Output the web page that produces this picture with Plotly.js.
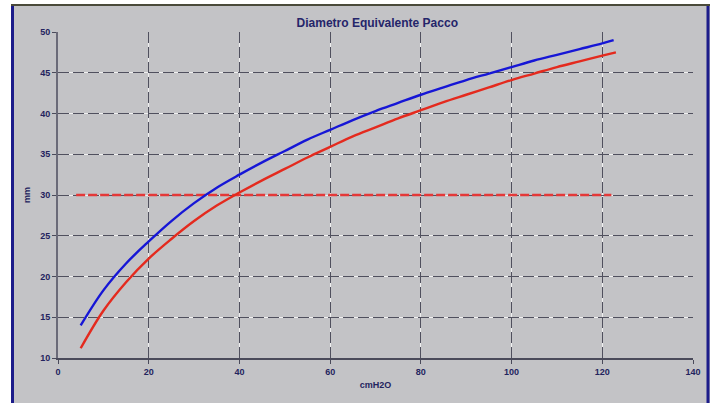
<!DOCTYPE html>
<html>
<head>
<meta charset="utf-8">
<script src="https://cdn.plot.ly/plotly-3.0.1.min.js"></script>
<style>
  html, body { margin: 0; padding: 0; background: #ffffff; }
  #chart { width: 716px; height: 403px; }
</style>
</head>
<body>
<div id="chart"></div>
<script>
// Pressure (cmH2O) sample points for the two diameter curves
const pressureBlue = [5, 10, 15, 20, 25, 30, 35, 40, 45, 50, 55, 60, 65, 70, 75, 80, 85, 90, 95, 100, 105, 110, 115, 120, 122.5];
const diameterBlue = [14.0, 18.3, 21.6, 24.3, 26.8, 29.0, 30.9, 32.5, 34.0, 35.4, 36.8, 38.0, 39.2, 40.3, 41.3, 42.3, 43.2, 44.1, 44.9, 45.7, 46.5, 47.2, 47.9, 48.6, 49.0];

const pressureRed = [5, 10, 15, 20, 25, 30, 35, 40, 45, 50, 55, 60, 65, 70, 75, 80, 85, 90, 95, 100, 105, 110, 115, 120, 123];
const diameterRed = [11.2, 15.8, 19.3, 22.2, 24.6, 26.8, 28.7, 30.3, 31.8, 33.2, 34.6, 35.9, 37.2, 38.3, 39.4, 40.4, 41.4, 42.3, 43.2, 44.1, 44.9, 45.7, 46.4, 47.1, 47.5];

// Reference diameter level
const refPressure = [4, 122];
const refDiameter = [30, 30];

const xTicks = [0, 20, 40, 60, 80, 100, 120, 140];
const yTicks = [10, 15, 20, 25, 30, 35, 40, 45, 50];

const labelFont = { family: 'Liberation Sans, Arial, sans-serif', size: 9, color: '#23235e', weight: 'bold' };
const gridDark = '#50505e';

const traces = [
  // invisible trace that activates the overlay axes (dark dashed layer of the grid)
  {
    x: [0], y: [10], xaxis: 'x2', yaxis: 'y2', mode: 'markers',
    marker: { opacity: 0 }, hoverinfo: 'skip'
  },
  {
    x: refPressure, y: refDiameter, mode: 'lines', hoverinfo: 'skip',
    line: { color: '#e43838', width: 2.6, dash: '9px,3px' }
  },
  {
    x: pressureBlue, y: diameterBlue, mode: 'lines', hoverinfo: 'skip',
    line: { color: '#1616d6', width: 2.4, shape: 'spline' }
  },
  {
    x: pressureRed, y: diameterRed, mode: 'lines', hoverinfo: 'skip',
    line: { color: '#e42a1e', width: 2.4, shape: 'spline' }
  }
];

const px = v => (v - 58) / 635;       // page px -> paper x
const py = v => (358 - v) / 326;      // page px -> paper y

const layout = {
  width: 716, height: 403,
  margin: { l: 58, r: 23, t: 32, b: 45, pad: 0 },
  paper_bgcolor: '#c3c3c6',
  plot_bgcolor: 'rgba(0,0,0,0)',
  showlegend: false,
  title: {
    text: 'Diametro Equivalente Pacco',
    font: { family: 'Liberation Sans, Arial, sans-serif', size: 12, color: '#25256a', weight: 'bold' },
    x: 360 / 716, xanchor: 'center', xref: 'paper',
    y: 1 - 23 / 403, yanchor: 'middle', yref: 'container'
  },
  // white base layer of the grid
  xaxis: {
    range: [0, 140], tickvals: xTicks, ticktext: xTicks.map(String),
    showgrid: true, gridcolor: '#f0f0f0', gridwidth: 1,
    showline: true, linecolor: '#4a4a5a', linewidth: 2,
    ticks: 'outside', ticklen: 4, tickcolor: '#4a4a5a',
    zeroline: false, tickfont: labelFont,
    title: { text: 'cmH2O', font: labelFont, standoff: 6 }
  },
  yaxis: {
    range: [10, 50], tickvals: yTicks, ticktext: yTicks.map(String),
    showgrid: true, gridcolor: '#f0f0f0', gridwidth: 1,
    showline: true, linecolor: '#6a6a78', linewidth: 2,
    ticks: 'outside', ticklen: 4, tickcolor: '#4a4a5a',
    zeroline: false, tickfont: labelFont,
    title: { text: 'mm', font: labelFont, standoff: 8 }
  },
  // dark dashed layer drawn over it
  xaxis2: {
    overlaying: 'x', range: [0, 140], tickvals: xTicks, showticklabels: false,
    showgrid: true, gridcolor: gridDark, gridwidth: 1, griddash: '11px,4px',
    zeroline: false, showline: false
  },
  yaxis2: {
    overlaying: 'y', range: [10, 50], tickvals: yTicks, showticklabels: false,
    showgrid: true, gridcolor: gridDark, gridwidth: 1, griddash: '11px,4px',
    zeroline: false, showline: false
  },
  shapes: [
    // white surround of the panel
    { type: 'rect', xref: 'paper', yref: 'paper', x0: px(0), x1: px(11), y0: py(0), y1: py(403),
      fillcolor: '#ffffff', line: { width: 0 }, layer: 'below' },
    { type: 'rect', xref: 'paper', yref: 'paper', x0: px(710), x1: px(716), y0: py(0), y1: py(403),
      fillcolor: '#ffffff', line: { width: 0 }, layer: 'below' },
    { type: 'rect', xref: 'paper', yref: 'paper', x0: px(0), x1: px(716), y0: py(0), y1: py(4),
      fillcolor: '#ffffff', line: { width: 0 }, layer: 'below' },
    // panel frame
    { type: 'line', xref: 'paper', yref: 'paper', x0: px(12.5), x1: px(12.5), y0: py(4), y1: py(403),
      line: { color: '#1c1c8a', width: 3 } },
    { type: 'line', xref: 'paper', yref: 'paper', x0: px(708), x1: px(708), y0: py(4), y1: py(403),
      line: { color: '#1c1c8a', width: 3 } },
    { type: 'line', xref: 'paper', yref: 'paper', x0: px(11), x1: px(710), y0: py(5), y1: py(5),
      line: { color: '#4a4a3a', width: 2 } }
  ]
};

Plotly.newPlot('chart', traces, layout, { staticPlot: true, displayModeBar: false });
</script>
</body>
</html>
